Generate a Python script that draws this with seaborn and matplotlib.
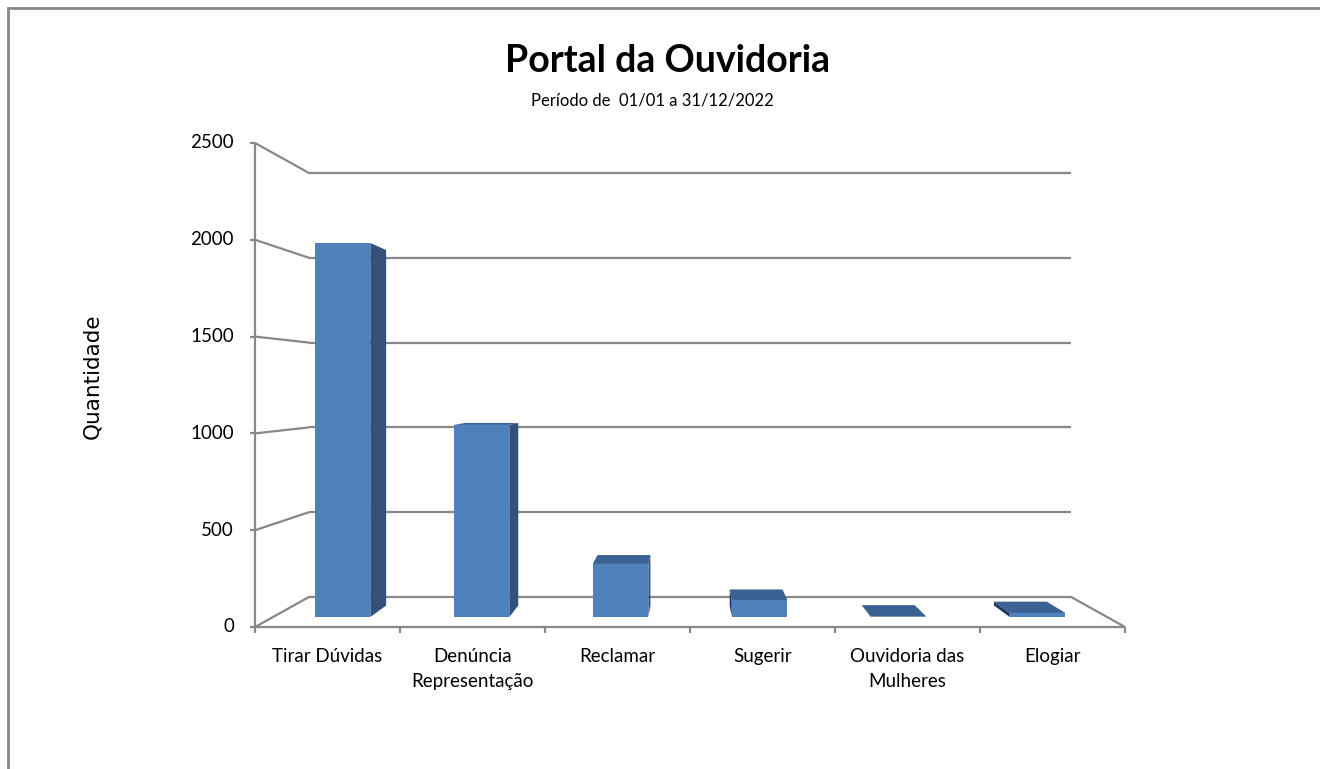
import matplotlib
matplotlib.use("Agg")
import matplotlib.pyplot as plt
from matplotlib.lines import Line2D
from matplotlib.patches import Polygon
import pandas as pd
import seaborn as sns

categories = ["Tirar Dúvidas", "Denúncia\nRepresentação", "Reclamar", "Sugerir",
              "Ouvidoria das\nMulheres", "Elogiar"]
quantidade = [2015, 1035, 286, 91, 2, 22]
y_ticks = [0, 500, 1000, 1500, 2000, 2500]

title = "Portal da Ouvidoria"
subtitle = "Período de  01/01 a 31/12/2022"
y_label = "Quantidade"

df = pd.DataFrame({"categoria": categories, "quantidade": quantidade})

sns.set_style("white")
plt.rcParams["font.family"] = ["Lato", "DejaVu Sans"]
plt.rcParams["text.color"] = "black"

FRONT = "#4F81BD"
SIDE = "#33517B"
TOP = "#3B6193"
GRID = "#888888"

W, H = 1320, 769
fig = plt.figure(figsize=(W / 100, H / 100), dpi=100)

# perspective set-up (Excel 3D look): vanishing point at the middle of the plot
s_bar = 1 - 0.125 * 0.33          # scale of the plane holding the bar fronts
d1, d2 = 0.33, 0.71               # bar depth (0 = front wall, 1 = back wall)
xv, yv = 2.5, 1250


def proj(x, y, d):
    r = (1 - 0.125 * d) / s_bar
    return xv + r * (x - xv), yv + r * (y - yv)


left_px = 691 + s_bar * (255 - 691)
bottom_px = 385 + s_bar * (627 - 385)
ax = fig.add_axes([left_px / W, (H - bottom_px) / H,
                   6 * 145 * s_bar / W, 2500 * 0.1936 * s_bar / H])

sns.barplot(data=df, x="categoria", y="quantidade", color=FRONT, width=0.4,
            saturation=1, linewidth=0, ax=ax, zorder=3)
ax.set_xlim(-0.5, 5.5)
ax.set_ylim(0, 2500)
ax.axis("off")

# side and top faces of the bars
for i, v in enumerate(quantidade):
    xl, xr = i - 0.2, i + 0.2
    faces = []
    if xr < xv:
        faces.append(([proj(xr, 0, d1), proj(xr, v, d1), proj(xr, v, d2), proj(xr, 0, d2)], SIDE))
    if xl > xv:
        faces.append(([proj(xl, 0, d1), proj(xl, v, d1), proj(xl, v, d2), proj(xl, 0, d2)], "#203a5e"))
    if v < yv:
        faces.append(([proj(xl, v, d1), proj(xr, v, d1), proj(xr, v, d2), proj(xl, v, d2)], TOP))
    for pts, c in faces:
        ax.add_patch(Polygon(pts, closed=True, facecolor=c, edgecolor="none",
                             zorder=2, clip_on=False))


def line(p, q, **kw):
    ax.plot([p[0], q[0]], [p[1], q[1]], color=GRID, lw=1.6, clip_on=False,
            solid_capstyle="butt", zorder=1, **kw)


# walls and gridlines
for t in y_ticks:
    line(proj(-0.5, t, 1), proj(5.5, t, 1))
    line(proj(-0.5, t, 0), proj(-0.5, t, 1))
    line(proj(-0.5 - 0.035, t, 0), proj(-0.5, t, 0))
    tx, ty = proj(-0.645, t, 0)
    ax.text(tx, ty, str(t), ha="right", va="center", fontsize=13.5, clip_on=False)

line(proj(-0.5, 0, 0), proj(-0.5, 2500, 0))
line(proj(-0.5, 0, 0), proj(5.5, 0, 0))
line(proj(5.5, 0, 0), proj(5.5, 0, 1))
for b in range(7):
    line(proj(b - 0.5, 0, 0), proj(b - 0.5, -33, 0))

for i, c in enumerate(categories):
    tx, ty = proj(i, -108, 0)
    ax.text(tx, ty, c, ha="center", va="top", fontsize=13.5, linespacing=1.55,
            multialignment="center", clip_on=False)

fig.text(668 / W, (H - 72) / H, title, ha="center", va="baseline",
         fontsize=27, fontweight="bold")
fig.text(652 / W, (H - 106) / H, subtitle, ha="center", va="baseline", fontsize=12)
fig.text(92 / W, (H - 376) / H, y_label, ha="center", va="center", rotation=90,
         fontsize=15.5, family="DejaVu Sans")

# chart frame (top and left edges)
fig.add_artist(Line2D([8 / W, 1.02], [(H - 8) / H] * 2, transform=fig.transFigure,
                      color="#888888", lw=2, solid_capstyle="butt"))
fig.add_artist(Line2D([8 / W] * 2, [-0.02, (H - 8) / H], transform=fig.transFigure,
                      color="#888888", lw=2, solid_capstyle="projecting"))

fig.savefig("out.png", dpi=100, facecolor="white")
